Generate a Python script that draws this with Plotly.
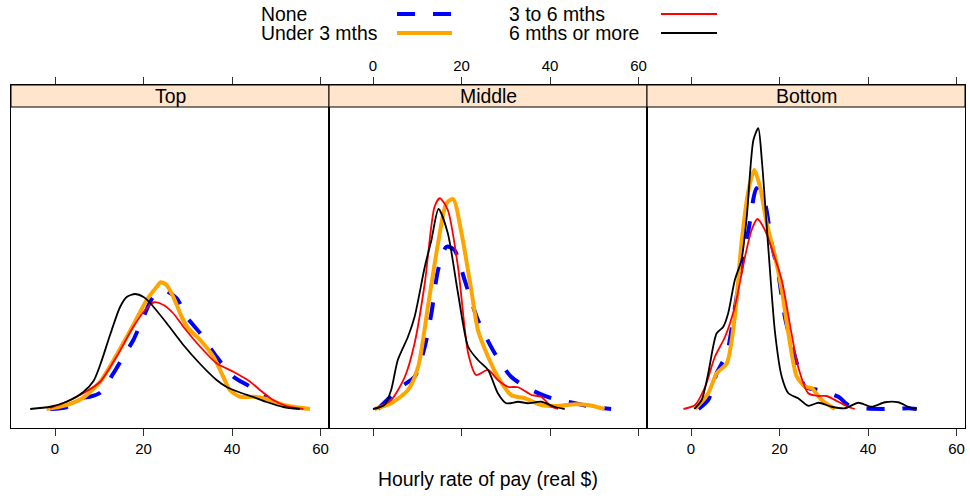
import plotly.graph_objects as go

# ---------------- data (x = hourly rate of pay, density in units of 1e-3) ----------------
panels = ["Top", "Middle", "Bottom"]
groups = ["None", "Under 3 mths", "3 to 6 mths", "6 mths or more"]
x_ticks = [0, 20, 40, 60]
x_title = "Hourly rate of pay (real $)"
DENSITY_UNIT = 1e-3

# Top panel
top_none_x = [-1.1, 2.6, 6.0, 7.9, 10.2, 13.2, 15.4, 17.7, 20.0, 22.2, 24.8, 27.5, 29.7, 32.8, 36.5, 40.3, 44.1, 47.8, 51.6, 53.1]
top_none_d = [0, 0.7, 4.3, 4.9, 6.5, 14.3, 20.9, 27.6, 36.9, 44.9, 47.3, 44.3, 36.9, 30.3, 20.9, 12.9, 8.9, 4.3, 0.9, 0]
top_u3_x = [-1.9, 2.6, 6.4, 10.2, 13.9, 17.7, 20.7, 23.0, 23.9, 25.2, 26.7, 28.6, 30.1, 32.8, 35.8, 38.0, 39.5, 41.8, 44.8, 47.8, 51.6, 57.6]
top_u3_d = [0, 1.6, 4.5, 10.9, 21.6, 33.6, 43.6, 48.9, 50.7, 49.6, 44.9, 36.9, 32.3, 27.6, 20.9, 12.9, 7.6, 4.9, 4.9, 4.0, 1.6, 0]
top_3to6_x = [-1.1, 2.6, 6.4, 10.2, 13.9, 17.7, 20.7, 22.4, 24.5, 26.7, 29.0, 32.8, 36.5, 40.3, 44.1, 46.3, 49.3, 52.3, 56.1]
top_3to6_d = [0.4, 2.9, 6.3, 10.9, 20.9, 32.9, 40.3, 42.7, 41.6, 38.3, 32.9, 24.9, 18.3, 14.9, 10.9, 7.6, 3.6, 1.2, 0]
top_6plus_x = [-5.6, -1.1, 2.6, 6.4, 8.7, 10.2, 12.4, 14.7, 16.2, 18.1, 20.0, 21.5, 25.2, 29.0, 32.8, 36.5, 38.8, 41.8, 44.8, 47.8, 51.6, 55.3]
top_6plus_d = [0, 0.9, 2.9, 6.8, 11.2, 17.6, 29.4, 40.8, 44.8, 46.0, 44.8, 42.4, 34.4, 25.6, 18.0, 11.6, 8.8, 6.6, 4.8, 2.8, 0.8, 0]

# Middle panel
mid_none_x = [1.1, 6.4, 9.4, 11.7, 13.2, 14.7, 16.6, 18.4, 20.7, 23.7, 27.5, 31.2, 35.8, 40.3, 45.6, 49.3, 53.8]
mid_none_d = [0, 8.9, 12.9, 24.9, 38.3, 55.6, 64.9, 63.6, 51.6, 35.6, 22.3, 12.9, 7.6, 4.3, 2.3, 0.9, 0]
mid_u3_x = [0.4, 4.1, 7.9, 10.2, 12.4, 14.7, 16.6, 18.1, 20.0, 22.2, 23.7, 26.0, 28.2, 31.2, 34.3, 38.0, 41.8, 45.6, 48.6, 52.3]
mid_u3_d = [0, 2.3, 7.6, 16.9, 40.9, 66.3, 82.3, 84.0, 70.3, 47.6, 31.6, 20.9, 12.9, 5.6, 4.3, 1.6, 1.2, 1.9, 1.6, 0]
mid_3to6_x = [0.4, 4.1, 7.2, 9.4, 11.7, 13.9, 15.1, 16.9, 19.2, 21.5, 23.3, 26.0, 28.2, 30.5, 32.8, 35.8, 38.0, 40.3, 41.8]
mid_3to6_d = [0, 3.6, 12.9, 26.3, 50.3, 80.9, 84.3, 79.6, 56.9, 22.3, 13.6, 15.6, 11.6, 8.9, 8.7, 5.6, 4.9, 0.9, 0]
mid_6plus_x = [0, 2.6, 4.1, 5.6, 7.9, 9.4, 11.7, 13.2, 14.8, 16.9, 19.2, 21.5, 23.7, 26.0, 28.2, 30.1, 32.8, 35.0, 38.0, 41.0, 43.3]
mid_6plus_d = [0, 1.6, 7.6, 19.6, 28.9, 36.9, 56.9, 67.6, 80.0, 70.3, 46.3, 24.9, 19.6, 15.6, 6.3, 2.3, 2.9, 2.3, 2.9, 0.9, 0]

# Bottom panel
bot_none_x = [1.7, 3.9, 5.8, 8.1, 9.6, 11.4, 13.0, 14.8, 16.7, 18.2, 19.7, 21.2, 23.5, 25.8, 28.8, 33.3, 35.5, 38.6, 43.8, 46.8, 49.1, 51.0]
bot_none_d = [0, 3.6, 14.3, 22.3, 36.9, 56.9, 71.6, 88.3, 82.3, 66.3, 54.3, 36.9, 20.9, 8.9, 7.6, 4.9, 1.6, 0.3, 0, 0.1, 0.3, 0]
bot_u3_x = [0.9, 3.9, 5.8, 8.1, 9.9, 11.4, 13.0, 14.3, 15.6, 17.1, 19.0, 20.5, 22.0, 23.9, 25.8, 27.3, 29.5, 32.5]
bot_u3_d = [0, 6.3, 14.3, 18.3, 36.9, 66.3, 87.6, 95.6, 88.9, 74.3, 60.9, 47.6, 30.3, 12.9, 8.9, 8.3, 3.6, 0]
bot_3to6_x = [-1.7, 0.9, 3.2, 5.4, 7.7, 9.9, 12.2, 13.7, 15.0, 16.7, 18.6, 20.5, 22.7, 24.2, 26.5, 28.8, 30.6, 33.3, 35.5, 37.0]
bot_3to6_d = [0, 1.6, 8.9, 20.9, 28.9, 40.9, 60.9, 71.6, 76.0, 71.6, 62.3, 51.6, 30.3, 16.9, 6.3, 5.2, 5.2, 2.9, 0.9, 0]
bot_6plus_x = [0.75, 2.4, 3.9, 5.0, 5.8, 7.3, 8.4, 9.9, 11.4, 12.6, 14.1, 15.2, 16.0, 17.5, 19.0, 20.5, 22.0, 24.2, 26.5, 28.8, 31.8, 34.8, 37.8, 40.8, 43.8, 46.8, 49.1, 51.0]
bot_6plus_d = [0, 3.6, 14.3, 24.9, 30.3, 32.9, 38.3, 51.6, 59.6, 76.9, 107.6, 112.3, 99.6, 63.6, 30.3, 12.9, 6.3, 4.3, 1.3, 2.5, 0.9, 0.3, 2.5, 0.9, 2.7, 2.7, 0.9, 0]

series = {
    "Top": [(top_none_x, top_none_d), (top_u3_x, top_u3_d), (top_3to6_x, top_3to6_d), (top_6plus_x, top_6plus_d)],
    "Middle": [(mid_none_x, mid_none_d), (mid_u3_x, mid_u3_d), (mid_3to6_x, mid_3to6_d), (mid_6plus_x, mid_6plus_d)],
    "Bottom": [(bot_none_x, bot_none_d), (bot_u3_x, bot_u3_d), (bot_3to6_x, bot_3to6_d), (bot_6plus_x, bot_6plus_d)],
}

# ---------------- styling ----------------
colors = ["#0000FF", "#FFA500", "#FF0000", "#000000"]
widths = [4, 4, 1.8, 1.8]
dashes = ["18px,18px", "solid", "solid", "solid"]
FONT = "Liberation Sans, Arial, Helvetica, sans-serif"
TXT = 19.4

W, H = 970, 496
ML, MR, MT, MB = 11, 5, 85, 68
PW = W - ML - MR
PH = H - MT - MB


def fx(px):
    return (px - ML) / PW


def fy(py):
    return (H - MB - py) / PH


strip_bottom = fy(107)
x_range = [-9.94, 61.9]
y_range = [-7.6 * DENSITY_UNIT, 129.6 * DENSITY_UNIT]

fig = go.Figure()
for i, p in enumerate(panels):
    sfx = "" if i == 0 else str(i + 1)
    for g, (xs, ds) in enumerate(series[p]):
        fig.add_trace(go.Scatter(
            x=xs, y=[d * DENSITY_UNIT for d in ds], mode="lines", name=groups[g],
            line=dict(color=colors[g], width=widths[g], dash=dashes[g], shape="spline", smoothing=0.7),
            xaxis="x" + sfx, yaxis="y" + sfx, showlegend=False, hoverinfo="skip"))

layout = dict(
    width=W, height=H, margin=dict(l=ML, r=MR, t=MT, b=MB, pad=0),
    paper_bgcolor="white", plot_bgcolor="white",
    font=dict(family=FONT, size=TXT, color="black"),
    showlegend=False,
)
sides = ["bottom", "top", "bottom"]
for i, p in enumerate(panels):
    sfx = "" if i == 0 else str(i + 1)
    layout["xaxis" + sfx] = dict(
        domain=[i / 3, (i + 1) / 3], range=x_range, tickvals=x_ticks, side=sides[i],
        ticks="outside", ticklen=7, tickwidth=1, tickcolor="#333333",
        showline=True, linecolor="black", linewidth=1, mirror="ticks",
        showgrid=False, zeroline=False, tickfont=dict(size=15, color="black"),
        anchor="y" + sfx, fixedrange=True)
    layout["yaxis" + sfx] = dict(
        domain=[0, 1], range=y_range, showticklabels=False, ticks="",
        showline=True, linecolor="black", linewidth=1, mirror=True,
        showgrid=False, zeroline=False, anchor="x" + sfx, fixedrange=True)
fig.update_layout(**layout)

# strips
for i, p in enumerate(panels):
    fig.add_shape(type="rect", xref="paper", yref="paper", x0=i / 3, x1=(i + 1) / 3,
                  y0=strip_bottom, y1=1, fillcolor="#FFE5CC", line=dict(color="black", width=1))
    fig.add_annotation(x=(i + 0.5) / 3, y=(strip_bottom + 1) / 2, xref="paper", yref="paper",
                       text=p, showarrow=False, font=dict(size=TXT, color="black"),
                       xanchor="center", yanchor="middle")

# x-axis title
fig.add_annotation(x=0.5, y=fy(479), xref="paper", yref="paper", text=x_title,
                   showarrow=False, font=dict(size=TXT, color="black"), xanchor="center", yanchor="middle")

# legend (two columns, text then line key)
leg_pos = [(259, 14, 397, 452), (259, 33, 397, 452), (507, 14, 661, 717), (507, 33, 661, 717)]
for g, (tx, ty, lx0, lx1) in enumerate(leg_pos):
    fig.add_annotation(x=fx(tx), y=fy(ty), xref="paper", yref="paper", text=groups[g],
                       showarrow=False, font=dict(size=TXT, color="black"),
                       xanchor="left", yanchor="middle")
    fig.add_shape(type="line", xref="paper", yref="paper", x0=fx(lx0), x1=fx(lx1),
                  y0=fy(ty), y1=fy(ty), line=dict(color=colors[g], width=widths[g], dash=dashes[g]))

fig.write_html("out.html", config={"displayModeBar": False},
               post_script="document.body.style.margin='0';document.body.style.overflow='hidden';")
